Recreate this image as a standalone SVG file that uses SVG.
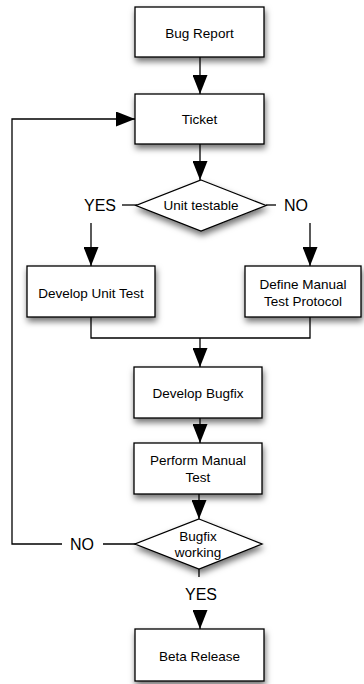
<svg xmlns="http://www.w3.org/2000/svg" width="364" height="684" viewBox="0 0 364 684">
  <style>
    .shape { fill: #ffffff; stroke: #000000; stroke-width: 1.3; }
    .label { font-family: "Liberation Sans", Arial, sans-serif; font-size: 13.5px; fill: #000000; text-anchor: middle; dominant-baseline: central; }
    .branch { font-family: "Liberation Sans", Arial, sans-serif; font-size: 16px; fill: #000000; text-anchor: middle; dominant-baseline: central; }
    .wire { fill: none; stroke: #000000; stroke-width: 1.3; }
  </style>
  <defs>
    <filter id="shadow" x="-20%" y="-20%" width="140%" height="160%">
      <feDropShadow dx="1" dy="4" stdDeviation="3" flood-color="#000000" flood-opacity="0.55"/>
    </filter>
    <marker id="head" markerUnits="userSpaceOnUse" markerWidth="19" markerHeight="15" refX="19" refY="7.5" orient="auto">
      <path d="M0,0 L19,7.5 L0,15 Z" fill="#000000"/>
    </marker>
  </defs>
  <rect width="364" height="684" fill="#ffffff"/>

  <g id="connectors">
    <line class="wire" x1="200" y1="57" x2="200" y2="94" marker-end="url(#head)"/>
    <line class="wire" x1="200" y1="144" x2="200" y2="180" marker-end="url(#head)"/>
    <line class="wire" x1="122" y1="205" x2="137" y2="205"/>
    <line class="wire" x1="91" y1="223" x2="91" y2="266" marker-end="url(#head)"/>
    <line class="wire" x1="266" y1="205" x2="276" y2="205"/>
    <line class="wire" x1="310" y1="223" x2="310" y2="266" marker-end="url(#head)"/>
    <path class="wire" d="M91,317 V338 H310 V317"/>
    <line class="wire" x1="200" y1="338" x2="200" y2="367" marker-end="url(#head)"/>
    <line class="wire" x1="200" y1="418" x2="200" y2="443" marker-end="url(#head)"/>
    <line class="wire" x1="199" y1="494" x2="199" y2="519" marker-end="url(#head)"/>
    <line class="wire" x1="136" y1="544" x2="103" y2="544"/>
    <path class="wire" d="M62,544 H12 V119 H135" marker-end="url(#head)"/>
    <line class="wire" x1="199" y1="569" x2="199" y2="577"/>
    <line class="wire" x1="200" y1="610" x2="200" y2="629" marker-end="url(#head)"/>
  </g>

  <g id="bug-report">
    <rect class="shape" x="135" y="7" width="129" height="50" filter="url(#shadow)"/>
    <text class="label" x="199.5" y="33">Bug Report</text>
  </g>

  <g id="ticket">
    <rect class="shape" x="135" y="94" width="129" height="50" filter="url(#shadow)"/>
    <text class="label" x="199.5" y="119">Ticket</text>
  </g>

  <g id="unit-testable">
    <polygon class="shape" points="201,180 266,205.5 201,231 136,205.5" filter="url(#shadow)"/>
    <text class="label" x="201" y="205">Unit testable</text>
    <text class="branch" x="100" y="205">YES</text>
    <text class="branch" x="296" y="205">NO</text>
  </g>

  <g id="develop-unit-test">
    <rect class="shape" x="27" y="266" width="128" height="51" filter="url(#shadow)"/>
    <text class="label" x="91" y="293">Develop Unit Test</text>
  </g>

  <g id="define-manual-test-protocol">
    <rect class="shape" x="245" y="266" width="116" height="51" filter="url(#shadow)"/>
    <text class="label" x="303" y="284">Define Manual</text>
    <text class="label" x="303" y="301">Test Protocol</text>
  </g>

  <g id="develop-bugfix">
    <rect class="shape" x="134" y="367" width="128" height="51" filter="url(#shadow)"/>
    <text class="label" x="198" y="393">Develop Bugfix</text>
  </g>

  <g id="perform-manual-test">
    <rect class="shape" x="134" y="443" width="128" height="51" filter="url(#shadow)"/>
    <text class="label" x="198" y="460">Perform Manual</text>
    <text class="label" x="198" y="477">Test</text>
  </g>

  <g id="bugfix-working">
    <polygon class="shape" points="199,519 262,544 199,569 135,544" filter="url(#shadow)"/>
    <text class="label" x="198" y="536">Bugfix</text>
    <text class="label" x="198" y="552">working</text>
    <text class="branch" x="82" y="544">NO</text>
    <text class="branch" x="201" y="594">YES</text>
  </g>

  <g id="beta-release">
    <rect class="shape" x="135" y="629" width="129" height="52" filter="url(#shadow)"/>
    <text class="label" x="199.5" y="656">Beta Release</text>
  </g>
</svg>
